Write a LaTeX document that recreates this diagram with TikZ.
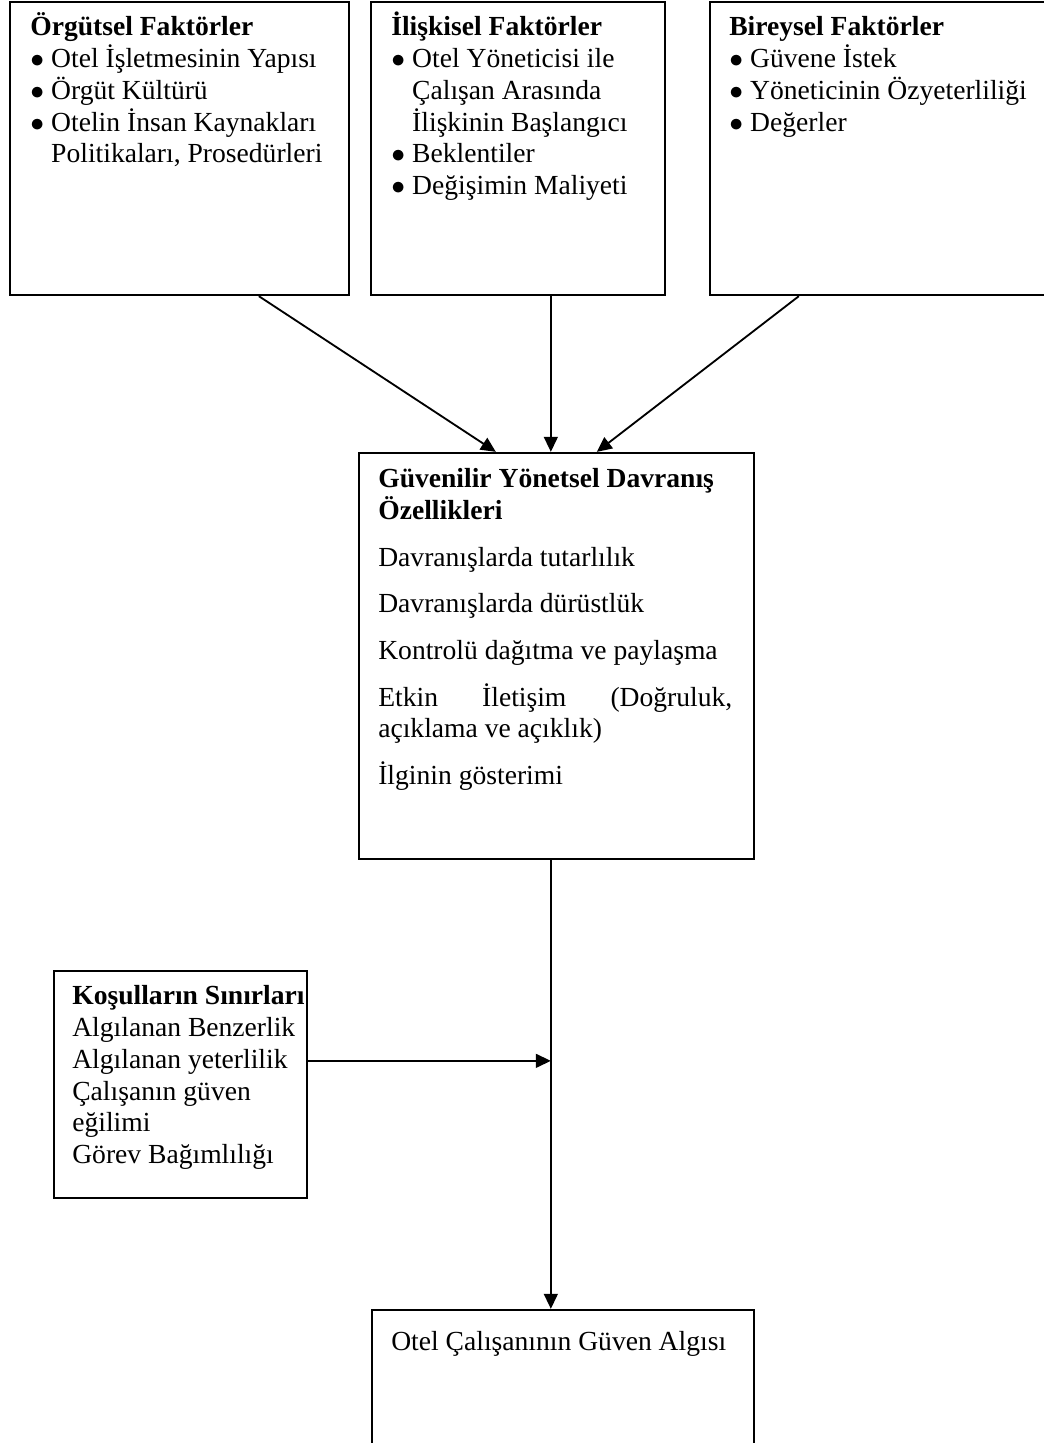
\documentclass[tikz,border=0pt]{standalone}
\usepackage{fontspec}
\setmainfont{Liberation Serif}
\usetikzlibrary{arrows.meta,calc,fit}

\tikzset{
  kutu/.style={draw, line width=1pt, inner sep=0pt},
  yazi/.style={anchor=base west, inner sep=0pt, align=flush left, text width=140pt,
    font=\fontsize{12}{13.8}\selectfont},
  ok/.style={->, line width=0.8pt}
}
\newcommand{\madde}{\makebox[9.1pt][l]{$\bullet$}}
\newcommand{\devam}{\hspace*{9.1pt}}
\hyphenpenalty=10000

\begin{document}
\begin{tikzpicture}[x=0.435pt,y=-0.435pt,>={Triangle[length=6.5pt,width=6pt]}]
   \useasboundingbox (0,0) rectangle (1044,1443);
   \clip (0,0) rectangle (1044,1443);

   \node[kutu, fit={(10,2) (349,295)}] (orgut) {};
   \node[kutu, fit={(371,2) (665,295)}] (iliski) {};
   \node[kutu, fit={(710,2) (1060,295)}] (birey) {};
   \node[kutu, fit={(359,453) (754,859)}] (guven) {};
   \node[kutu, fit={(54,971) (307,1198)}] (kosul) {};
   \node[kutu, fit={(372,1310) (754,1470)}] (algi) {};

   \node[yazi] (orgutyazi) at ($(orgut.north west)+(21,35)$)
     {\textbf{Örgütsel Faktörler}\\
      \madde Otel İşletmesinin Yapısı\\
      \madde Örgüt Kültürü\\
      \madde Otelin İnsan Kaynakları\\
      \devam Politikaları, Prosedürleri};
   \node[yazi] (iliskiyazi) at ($(iliski.north west)+(21,35)$)
     {\textbf{İlişkisel Faktörler}\\
      \madde Otel Yöneticisi ile\\
      \devam Çalışan Arasında\\
      \devam İlişkinin Başlangıcı\\
      \madde Beklentiler\\
      \madde Değişimin Maliyeti};
   \node[yazi] (bireyyazi) at ($(birey.north west)+(20,35)$)
     {\textbf{Bireysel Faktörler}\\
      \madde Güvene İstek\\
      \madde Yöneticinin Özyeterliliği\\
      \madde Değerler};
   \node[yazi, text width=154pt, align=justify] (guvenyazi) at ($(guven.north west)+(20,36)$)
     {\textbf{Güvenilir Yönetsel Davranış}\\
      \textbf{Özellikleri}\\[6.5pt]
      Davranışlarda tutarlılık\\[6.5pt]
      Davranışlarda dürüstlük\\[6.5pt]
      Kontrolü dağıtma ve paylaşma\\[6.5pt]
      Etkin İletişim (Doğruluk, açıklama ve açıklık)\\[6.5pt]
      İlginin gösterimi};
   \node[yazi, text width=110pt] (kosulyazi) at ($(kosul.north west)+(19,35)$)
     {\textbf{Koşulların Sınırları}\\
      Algılanan Benzerlik\\
      Algılanan yeterlilik\\
      Çalışanın güven\\
      eğilimi\\
      Görev Bağımlılığı};
   \node[yazi, text width=150pt] (algiyazi) at ($(algi.north west)+(20,42)$)
     {Otel Çalışanının Güven Algısı};

   \coordinate (dikey) at ($(guven.south west)+(193,0)$);
   \coordinate (kol) at ($(kosul.north east)+(0,91)$);

   \draw[ok] ($(orgut.south west)+(250,0)$) -- ($(guven.north west)+(138,0)$);
   \draw[ok] ($(iliski.south west)+(181,0)$) -- ($(guven.north west)+(193,0)$);
   \draw[ok] ($(birey.south west)+(90,0)$) -- ($(guven.north west)+(239,0)$);
   \draw[ok] (dikey) -- ($(algi.north west)+(180,0)$);
   \draw[ok] (kol) -- (kol -| dikey);
\end{tikzpicture}
\end{document}
